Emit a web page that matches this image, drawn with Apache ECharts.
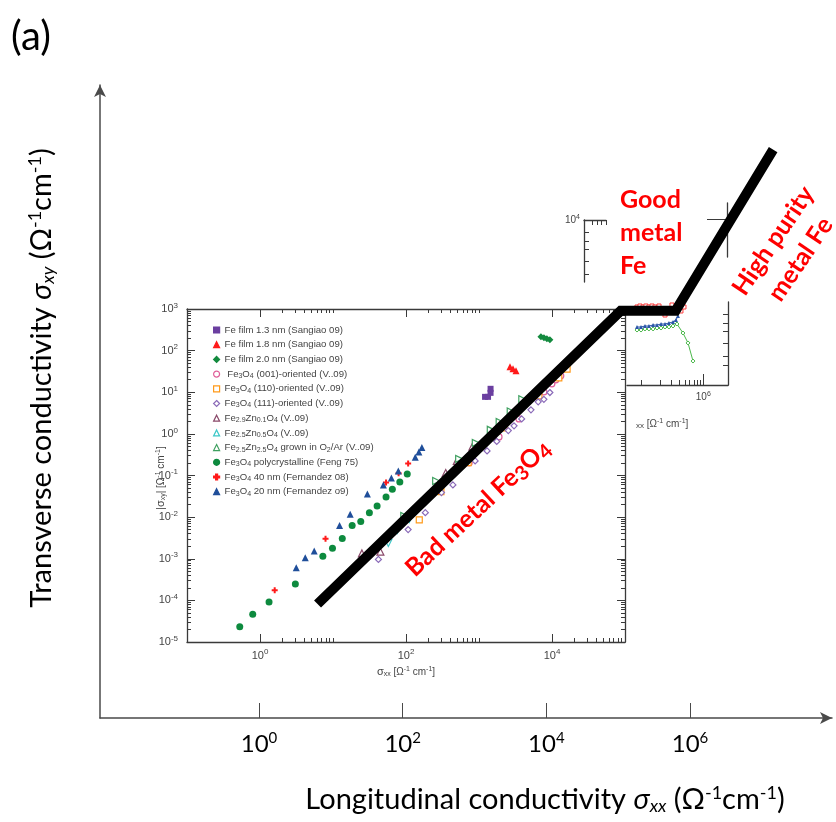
<!DOCTYPE html>
<html>
<head>
<meta charset="utf-8">
<title>sigma_xy vs sigma_xx</title>
<script src="https://cdn.jsdelivr.net/npm/echarts@6.0.0/dist/echarts.min.js"></script>
<style>
  html, body { margin: 0; padding: 0; background: #fff; }
  #main { width: 836px; height: 822px; }
</style>
</head>
<body>
<div id="main"></div>
<script>
// ---------- values ----------
// outer frame: decades of sigma_xx that carry a tick
const outerDecades = [0, 2, 4, 6];

// inset tick decades
const insetXMajor = [0, 2, 4];
const insetYMajor = [-5, -4, -3, -2, -1, 0, 1, 2, 3];

const seriesNames = [
  'Fe film 1.3 nm (Sangiao 09)',
  'Fe film 1.8 nm (Sangiao 09)',
  'Fe film 2.0 nm (Sangiao 09)',
  'Fe3O4 (001)-oriented (V..09)',
  'Fe3O4 (110)-oriented (V..09)',
  'Fe3O4 (111)-oriented (V..09)',
  'Fe2.9Zn0.1O4 (V..09)',
  'Fe2.5Zn0.5O4 (V..09)',
  'Fe2.5Zn2.5O4 grown in O2/Ar (V..09)',
  'Fe3O4 polycrystalline (Feng 75)',
  'Fe3O4 40 nm (Fernandez 08)',
  'Fe3O4 20 nm (Fernandez o9)'
];
const legendLabels = [
  'Fe film 1.3 nm (Sangiao 09)',
  'Fe film 1.8 nm (Sangiao 09)',
  'Fe film 2.0 nm (Sangiao 09)',
  ' Fe{s|3}O{s|4} (001)-oriented (V..09)',
  'Fe{s|3}O{s|4} (110)-oriented (V..09)',
  'Fe{s|3}O{s|4} (111)-oriented (V..09)',
  'Fe{s|2.9}Zn{s|0.1}O{s|4} (V..09)',
  'Fe{s|2.5}Zn{s|0.5}O{s|4} (V..09)',
  'Fe{s|2.5}Zn{s|2.5}O{s|4} grown in O{s|2}/Ar (V..09)',
  'Fe{s|3}O{s|4} polycrystalline (Feng 75)',
  'Fe{s|3}O{s|4} 40 nm (Fernandez 08)',
  'Fe{s|3}O{s|4} 20 nm (Fernandez o9)'
];

// [sigma_xx, |sigma_xy|]
const feFilm13 = [[1210, 7.75], [1330, 7.75], [1440, 9.67], [1440, 12.1]];
const feFilm18 = [[2660, 40.8], [2920, 36.5], [3210, 32.7]];
const feFilm20 = [[7050, 215], [7750, 203], [8510, 192], [9360, 182]];
const fe001 = [[733, 0.201], [1880, 0.847], [3530, 2.29], [7740, 10.2], [9970, 15.9], [11300, 19.9], [13200, 24.8]];
const fe110 = [[152, 0.00857], [301, 0.041], [710, 0.204], [2200, 1.39], [6620, 8.19], [12400, 22.2], [16100, 35.9]];
const fe111 = [[41.9, 9.62e-4], [107, 5.01e-3], [184, 0.0128], [306, 0.0388], [439, 0.0594], [885, 0.224],
  [1290, 0.39], [1750, 0.66], [2520, 1.2], [3020, 1.56], [3840, 2.29], [5150, 3.78], [6470, 5.88], [7740, 6.75], [9350, 9.84]];
const zn29 = [[24.9, 1.34e-3], [44.6, 1.48e-3], [350, 0.115], [497, 0.224], [813, 0.495]];
const zn25 = [[57.3, 2.4e-3], [76, 4.92e-3], [111, 9.06e-3]];
const zn25Ar = [[94.8, 0.0107], [259, 0.0741], [535, 0.251], [904, 0.608], [1450, 1.25], [1920, 1.94], [2720, 3.44], [3920, 6.82]];
const fengPoly = [[0.528, 2.33e-5], [0.795, 4.63e-5], [1.33, 9.16e-5], [3.05, 2.48e-4], [7.26, 1.15e-3], [9.84, 1.79e-3],
  [13.4, 3.08e-3], [18.3, 6.31e-3], [24, 7.8e-3], [31.5, 0.0128], [40.2, 0.0186], [53.3, 0.0306], [65, 0.0469], [82.3, 0.0702], [104, 0.109]];
const fern08 = [[1.59, 1.75e-4], [7.9, 3.04e-3], [53.3, 0.0675], [79.2, 0.113], [107, 0.195]];
const fern09 = [[3.14, 6.11e-4], [4.17, 1.06e-3], [5.53, 1.54e-3], [12.3, 6.31e-3], [17.2, 0.0118], [29.6, 0.0361],
  [49, 0.0594], [63, 0.0875], [78.5, 0.129], [134, 0.275], [150, 0.369], [165, 0.469]];

// the thick black guide line
const trendX = [6.14, 87300, 493000, 1.07e7];
const trendY = [8.19e-5, 905, 905, 6.71e6];

// partly covered second panel (top right)
const fragRedX = [83900, 93800, 105000, 117000, 131000, 147000, 164000, 191000, 239000, 310000, 347000, 388000, 434000, 486000];
const fragRedY = [7580, 8010, 7580, 8010, 7580, 8010, 7580, 8010, 4860, 8470, 6780, 8010, 6070, 7580];
const fragBlueX = [83900, 97500, 113000, 131000, 153000, 177000, 206000, 239000, 277000, 322000, 360000, 388000];
const fragBlueY = [2500, 2500, 2640, 2640, 2790, 2790, 2950, 2950, 3120, 3300, 3680, 4600];
const fragGreenX = [83900, 97500, 113000, 131000, 153000, 177000, 206000, 239000, 277000, 322000, 374000, 468000, 565000, 681000];
const fragGreenY = [2110, 2110, 2240, 2240, 2240, 2360, 2360, 2500, 2500, 2640, 2950, 1790, 1030, 378];

// ---------- styling ----------
const FONT_OUT = 'Lato';
const FONT_IN = 'Liberation Sans';
const INK = '#3a3a3a';
const TXT = '#444';

const minorOf = (decades, upTo) => {
  const out = [];
  decades.forEach(d => { for (let m = 2; m <= upTo; m++) out.push(d + Math.log10(m)); });
  return out;
};
const insetXMinor = minorOf(insetXMajor, 10);
const insetYMinor = minorOf([-5, -4, -3, -2, -1, 0, 1, 2], 9);

const inRich = {
  b: { fontSize: 11, fontFamily: FONT_IN, color: TXT },
  s: { fontSize: 8, fontFamily: FONT_IN, color: TXT, padding: [0, 0, 7, 0] }
};
const smallRich = {
  b: { fontSize: 10, fontFamily: FONT_IN, color: TXT },
  s: { fontSize: 7, fontFamily: FONT_IN, color: TXT, padding: [0, 0, 6, 0] }
};
const titleRich = {
  i: { fontSize: 29, fontFamily: FONT_OUT, fontStyle: 'italic' },
  isb: { fontSize: 18, fontFamily: FONT_OUT, fontStyle: 'italic', padding: [12, 0, 0, 0] },
  sp: { fontSize: 18, fontFamily: FONT_OUT, padding: [0, 0, 14, 0] }
};
const pow10 = v => '{b|10}{s|' + Math.round(v) + '}';

function tickAxis(o) {
  return {
    gridIndex: o.grid, type: 'value', position: o.pos, min: o.min, max: o.max,
    axisLine: { show: !!o.line, onZero: false, lineStyle: { color: o.color || INK, width: 1.3 } },
    axisTick: { show: !!o.ticks, inside: true, length: o.len || 4, customValues: o.ticks || [],
      lineStyle: { color: o.color || INK, width: 1 } },
    axisLabel: o.labels
      ? { show: true, customValues: o.labels, margin: o.margin, formatter: pow10, rich: o.rich || inRich }
      : { show: false },
    splitLine: { show: false }
  };
}

function pts(i, data, symbol, color, size, hollow, rotate) {
  return {
    name: seriesNames[i], type: 'scatter', xAxisIndex: 1, yAxisIndex: 1, data,
    symbol, symbolSize: size, symbolRotate: rotate || 0,
    itemStyle: hollow
      ? { color: '#fff', borderColor: color, borderWidth: 1.2, opacity: 1 }
      : { color, borderColor: color, borderWidth: 0, opacity: 1 },
    emphasis: { disabled: true }, silent: true, z: 3
  };
}

function fragLine(xs, ys, symbol, color, hollow) {
  return {
    type: 'line', xAxisIndex: 8, yAxisIndex: 8,
    data: xs.map((x, i) => [x, ys[i]]),
    symbol, symbolSize: 4, showSymbol: true,
    itemStyle: hollow ? { color: '#fff', borderColor: color, borderWidth: 1 } : { color },
    lineStyle: { color, width: 1 }, emphasis: { disabled: true }, silent: true, z: 2
  };
}

const plus = 'path://M-1,-3H1V-1H3V1H1V3H-1V1H-3V-1H-1Z';

const chart = echarts.init(document.getElementById('main'));
chart.setOption({
  animation: false,
  backgroundColor: '#fff',
  grid: [
    { left: 100, top: 85, right: 4, bottom: 104, outerBoundsMode: 'none' },
    { left: 187, top: 309, width: 438, height: 333, outerBoundsMode: 'none' },
    { left: 584, top: 220, width: 22, height: 62, outerBoundsMode: 'none' },
    { left: 707, top: 203, width: 20, height: 54, outerBoundsMode: 'none' },
    { left: 627, top: 302, width: 101, height: 83, outerBoundsMode: 'none' },
    // same log scale as the inset, stretched over the whole page for the guide line
    { left: 187, top: 0, right: 0, bottom: 180, outerBoundsMode: 'none' }
  ],
  xAxis: [
    {
      gridIndex: 0, type: 'value', min: -2.2136, max: 7.977,
      axisLine: { onZero: false, lineStyle: { color: '#4a4a4a', width: 1.5 }, symbol: ['none', 'arrow'], symbolSize: [9, 12] },
      axisTick: { inside: true, length: 15, customValues: outerDecades, lineStyle: { color: '#4a4a4a', width: 1 } },
      axisLabel: {
        customValues: outerDecades, margin: 13, formatter: pow10,
        rich: {
          b: { fontSize: 24, fontFamily: FONT_OUT, color: '#000' },
          s: { fontSize: 15, fontFamily: FONT_OUT, color: '#000', padding: [0, 0, 12, 0] }
        }
      },
      splitLine: { show: false }
    },
    { gridIndex: 1, type: 'log', min: 0.1, max: 1e5, show: false },
    tickAxis({ grid: 1, pos: 'bottom', min: -1, max: 5, line: true, ticks: insetXMajor, len: 8, labels: insetXMajor, margin: 6 }),
    tickAxis({ grid: 1, pos: 'bottom', min: -1, max: 5, ticks: insetXMinor, len: 4 }),
    tickAxis({ grid: 1, pos: 'top', min: -1, max: 5, line: true, ticks: insetXMajor, len: 8 }),
    tickAxis({ grid: 1, pos: 'top', min: -1, max: 5, ticks: insetXMinor, len: 4 }),
    tickAxis({ grid: 2, pos: 'top', min: 0, max: 1, line: true, ticks: [0.36, 0.58, 0.8, 1], len: 5 }),
    { gridIndex: 3, type: 'value', show: false },
    { gridIndex: 4, type: 'log', min: 57700, max: 2.52e6, show: false },
    tickAxis({ grid: 4, pos: 'bottom', min: 4.761, max: 6.401, line: true, ticks: [6], len: 11, labels: [6], margin: 6, rich: smallRich }),
    tickAxis({ grid: 4, pos: 'bottom', min: 4.761, max: 6.401, ticks: minorOf([5], 9).concat([5]), len: 5 }),
    { gridIndex: 5, type: 'log', min: 0.1, max: Math.pow(10, 7.8904), show: false }
  ],
  yAxis: [
    {
      gridIndex: 0, type: 'value', min: 0, max: 1,
      axisLine: { onZero: false, lineStyle: { color: '#4a4a4a', width: 1.5 }, symbol: ['none', 'arrow'], symbolSize: [9, 12] },
      axisTick: { show: false }, axisLabel: { show: false }, splitLine: { show: false }
    },
    { gridIndex: 1, type: 'log', min: 1e-5, max: 1e3, show: false },
    tickAxis({ grid: 1, pos: 'left', min: -5, max: 3, line: true, ticks: insetYMajor, len: 8, labels: insetYMajor, margin: 9 }),
    tickAxis({ grid: 1, pos: 'left', min: -5, max: 3, ticks: insetYMinor, len: 4 }),
    tickAxis({ grid: 1, pos: 'right', min: -5, max: 3, line: true, ticks: insetYMajor, len: 8 }),
    tickAxis({ grid: 1, pos: 'right', min: -5, max: 3, ticks: insetYMinor, len: 4 }),
    tickAxis({ grid: 2, pos: 'left', min: 2.506, max: 4, line: true, ticks: [3.7, 3.48, 3.3, 3, 2.7], len: 5, labels: [4], margin: 4, rich: smallRich }),
    tickAxis({ grid: 3, pos: 'right', min: 0, max: 1, line: true, ticks: [0.7], len: 20 }),
    { gridIndex: 4, type: 'log', min: 100, max: 1e4, show: false },
    tickAxis({ grid: 4, pos: 'right', min: 2, max: 4, line: true, ticks: [3.7, 3.48, 3.3, 3, 2.7, 2.48], len: 5 }),
    { gridIndex: 5, type: 'log', min: 1e-5, max: Math.pow(10, 10.4234), show: false }
  ],
  legend: {
    data: seriesNames, orient: 'vertical', left: 208, top: 319,
    itemWidth: 6, itemHeight: 6, itemGap: 2.7, selectedMode: false,
    itemStyle: { borderWidth: 1.2 },
    textStyle: {
      fontFamily: FONT_IN, fontSize: 9.6, color: TXT, lineHeight: 12,
      rich: { s: { fontSize: 7, fontFamily: FONT_IN, color: TXT, padding: [4, 0, 0, 0] } }
    },
    formatter: n => legendLabels[seriesNames.indexOf(n)]
  },
  graphic: [
    { type: 'text', x: 31, y: 37, style: { text: '(a)', fontSize: 40, fontFamily: FONT_OUT, fill: '#000', align: 'center', verticalAlign: 'middle' } },
    {
      type: 'text', x: 545, y: 800,
      style: {
        text: 'Longitudinal conductivity {i|σ}{isb|xx} (Ω{sp|-1}cm{sp|-1})',
        fontSize: 29, fontFamily: FONT_OUT, fill: '#000', align: 'center', verticalAlign: 'middle', rich: titleRich
      }
    },
    {
      type: 'text', x: 42, y: 378, rotation: Math.PI / 2,
      style: {
        text: 'Transverse conductivity {i|σ}{isb|xy} (Ω{sp|-1}cm{sp|-1})',
        fontSize: 29, fontFamily: FONT_OUT, fill: '#000', align: 'center', verticalAlign: 'middle', rich: titleRich
      }
    },
    {
      type: 'text', x: 406, y: 672,
      style: {
        text: '{i|σ}{sb|xx} [Ω{sp|-1} cm{sp|-1}]', fontSize: 10, fontFamily: FONT_IN, fill: TXT, align: 'center', verticalAlign: 'middle',
        rich: { i: { fontSize: 11, fontFamily: FONT_IN }, sb: { fontSize: 7, fontFamily: FONT_IN, padding: [5, 0, 0, 0] }, sp: { fontSize: 7, fontFamily: FONT_IN, padding: [0, 0, 6, 0] } }
      }
    },
    {
      type: 'text', x: 161, y: 478, rotation: Math.PI / 2,
      style: {
        text: '|{i|σ}{sb|xy}| [Ω{sp|-1} cm{sp|-1}]', fontSize: 10, fontFamily: FONT_IN, fill: TXT, align: 'center', verticalAlign: 'middle',
        rich: { i: { fontSize: 11, fontFamily: FONT_IN }, sb: { fontSize: 7, fontFamily: FONT_IN, padding: [5, 0, 0, 0] }, sp: { fontSize: 7, fontFamily: FONT_IN, padding: [0, 0, 6, 0] } }
      }
    },
    {
      type: 'text', x: 636, y: 424,
      style: {
        text: '{sb|xx} [Ω{sp|-1} cm{sp|-1}]', fontSize: 10, fontFamily: FONT_IN, fill: TXT, align: 'left', verticalAlign: 'middle',
        rich: { sb: { fontSize: 8, fontFamily: FONT_IN, padding: [4, 0, 0, 0] }, sp: { fontSize: 7, fontFamily: FONT_IN, padding: [0, 0, 6, 0] } }
      }
    },
    {
      type: 'text', x: 620, y: 233, z: 100,
      style: { text: 'Good\nmetal\nFe', fontSize: 25, fontWeight: 'bold', fontFamily: FONT_OUT, fill: '#ff0000', align: 'left', verticalAlign: 'middle', lineHeight: 33 }
    },
    {
      type: 'text', x: 478, y: 508, rotation: 43 * Math.PI / 180, z: 100,
      style: {
        text: 'Bad metal Fe{sb|3}O{sb|4}', fontSize: 25, fontWeight: 'bold', fontFamily: FONT_OUT, fill: '#ff0000', align: 'center', verticalAlign: 'middle',
        rich: { sb: { fontSize: 20, fontWeight: 'bold', fontFamily: FONT_OUT, padding: [10, 0, 0, 0] } }
      }
    },
    {
      type: 'text', x: 787, y: 250, rotation: 56 * Math.PI / 180, z: 100,
      style: { text: 'High purity\nmetal Fe', fontSize: 25, fontWeight: 'bold', fontFamily: FONT_OUT, fill: '#ff0000', align: 'center', verticalAlign: 'middle', lineHeight: 33 }
    }
  ],
  series: [
    pts(0, feFilm13, 'rect', '#6b3fa0', 6),
    pts(1, feFilm18, 'triangle', '#ff1a1a', 7),
    pts(2, feFilm20, 'diamond', '#138a3e', 7),
    pts(3, fe001, 'circle', '#e0609a', 6, true),
    pts(4, fe110, 'rect', '#ff9a1a', 6, true),
    pts(5, fe111, 'diamond', '#8a6ab8', 6, true),
    pts(6, zn29, 'triangle', '#8a4a6a', 7, true),
    pts(7, zn25, 'triangle', '#3cc8c8', 7, true, 180),
    pts(8, zn25Ar, 'triangle', '#3fa060', 7, true, -90),
    pts(9, fengPoly, 'circle', '#0d8a3e', 7),
    pts(10, fern08, plus, '#ff1a1a', 6),
    pts(11, fern09, 'triangle', '#1f4e9a', 7),
    fragLine(fragRedX, fragRedY, 'rect', '#ff3b3b', true),
    fragLine(fragGreenX, fragGreenY, 'diamond', '#4cb84c', true),
    fragLine(fragBlueX, fragBlueY, 'triangle', '#2a56a8', false),
    {
      type: 'line', xAxisIndex: 11, yAxisIndex: 10,
      data: trendX.map((x, i) => [x, trendY[i]]),
      symbol: 'none', silent: true, z: 10,
      lineStyle: { color: '#000', width: 10, join: 'miter', cap: 'butt' }
    }
  ]
});
</script>
</body>
</html>
